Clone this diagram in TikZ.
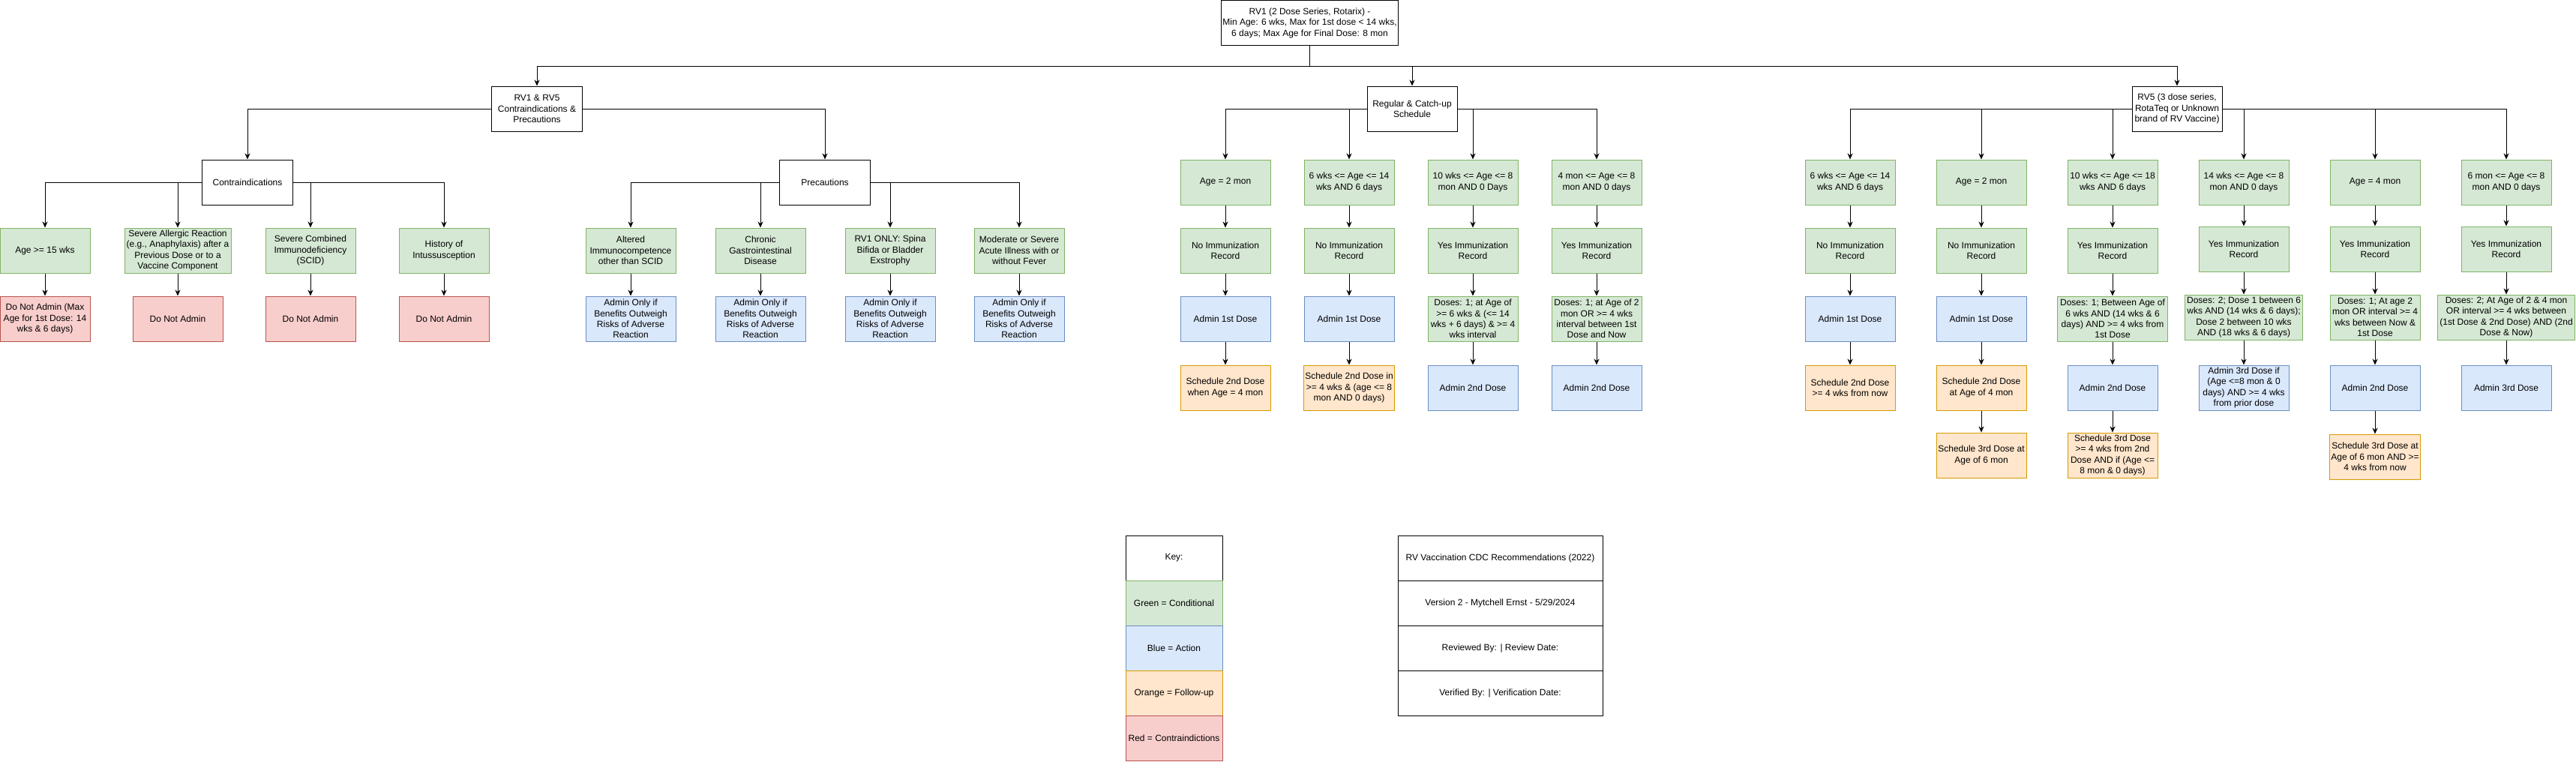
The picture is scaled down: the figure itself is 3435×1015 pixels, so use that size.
\documentclass[tikz,border=0pt]{standalone}
\usepackage{fontspec}
\setmainfont{Liberation Sans}
\usetikzlibrary{arrows.meta}

\definecolor{condfill}{HTML}{D5E8D4}
\definecolor{condline}{HTML}{82B366}
\definecolor{actfill}{HTML}{DAE8FC}
\definecolor{actline}{HTML}{6C8EBF}
\definecolor{folfill}{HTML}{FFE6CC}
\definecolor{folline}{HTML}{D79B00}
\definecolor{confill}{HTML}{F8CECC}
\definecolor{conline}{HTML}{B85450}

\tikzset{
	box/.style={draw, line width=1pt, minimum width=120pt, minimum height=60pt, inner sep=2pt, align=center, font=\fontsize{12}{14.4}\selectfont},
	plain/.style={box, draw=black, fill=white},
	cond/.style={box, draw=condline, fill=condfill},
	act/.style={box, draw=actline, fill=actfill},
	follow/.style={box, draw=folline, fill=folfill},
	contra/.style={box, draw=conline, fill=confill},
	arr/.style={-{Stealth[length=8pt,width=7pt,inset=2.5pt]}, line width=1pt},
}

\begin{document}
\begin{tikzpicture}[x=1pt,y=-1pt]
	\useasboundingbox (0,0) rectangle (3435,1015);
	
	\node[plain, minimum width=235pt] (root) at (1746.5,30.5) {RV1 (2 Dose Series, Rotarix) -\\Min Age: 6 wks, Max for 1st dose < 14 wks,\\6 days; Max Age for Final Dose: 8 mon};
	
	\node[plain, minimum width=121pt] (rvcp) at (716,145) {RV1 \& RV5\\Contraindications \&\\Precautions};
	\node[plain] (reg) at (1883,145) {Regular \& Catch-up\\Schedule};
	\node[plain] (rv5) at (2903,145) {RV5 (3 dose series,\\RotaTeq or Unknown\\brand of RV Vaccine)};
	
	\node[plain, minimum width=121pt] (contra) at (330,243) {Contraindications};
	\node[plain, minimum width=121pt] (prec) at (1100,243) {Precautions};
	
	% contraindications
	\node[cond] (ca1) at (60,334) {Age >= 15 wks};
	\node[cond, minimum width=142pt] (ca2) at (237,334) {Severe Allergic Reaction\\(e.g., Anaphylaxis) after a\\Previous Dose or to a\\Vaccine Component};
	\node[cond] (ca3) at (414,334) {Severe Combined\\Immunodeficiency\\(SCID)};
	\node[cond] (ca4) at (592,334) {History of\\Intussusception};
	\node[contra] (cb1) at (60,425) {Do Not Admin (Max\\Age for 1st Dose: 14\\wks \& 6 days)};
	\node[contra] (cb2) at (237,425) {Do Not Admin};
	\node[contra] (cb3) at (414,425) {Do Not Admin};
	\node[contra] (cb4) at (592,425) {Do Not Admin};
	
	% precautions
	\node[cond] (pa1) at (841,334) {Altered\\Immunocompetence\\other than SCID};
	\node[cond] (pa2) at (1014,334) {Chronic\\Gastrointestinal\\Disease};
	\node[cond] (pa3) at (1187,334) {RV1 ONLY: Spina\\Bifida or Bladder\\Exstrophy};
	\node[cond] (pa4) at (1359,334) {Moderate or Severe\\Acute Illness with or\\without Fever};
	\node[act] (pb1) at (841,425) {Admin Only if\\Benefits Outweigh\\Risks of Adverse\\Reaction};
	\node[act] (pb2) at (1014,425) {Admin Only if\\Benefits Outweigh\\Risks of Adverse\\Reaction};
	\node[act] (pb3) at (1187,425) {Admin Only if\\Benefits Outweigh\\Risks of Adverse\\Reaction};
	\node[act] (pb4) at (1359,425) {Admin Only if\\Benefits Outweigh\\Risks of Adverse\\Reaction};
	
	% regular & catch-up
	\node[cond] (ra1) at (1634,243) {Age = 2 mon};
	\node[cond] (ra2) at (1799,243) {6 wks <= Age <= 14\\wks AND 6 days};
	\node[cond] (ra3) at (1964,243) {10 wks <= Age <= 8\\mon AND 0 Days};
	\node[cond] (ra4) at (2129,243) {4 mon <= Age <= 8\\mon AND 0 days};
	\node[cond] (rb1) at (1634,334) {No Immunization\\Record};
	\node[cond] (rb2) at (1799,334) {No Immunization\\Record};
	\node[cond] (rb3) at (1964,334) {Yes Immunization\\Record};
	\node[cond] (rb4) at (2129,334) {Yes Immunization\\Record};
	\node[act] (rc1) at (1634,425) {Admin 1st Dose};
	\node[act] (rc2) at (1799,425) {Admin 1st Dose};
	\node[cond] (rc3) at (1964,425) {Doses: 1; at Age of\\>= 6 wks \& (<= 14\\wks + 6 days) \& >= 4\\wks interval};
	\node[cond] (rc4) at (2129,425) {Doses: 1; at Age of 2\\mon OR >= 4 wks\\interval between 1st\\Dose and Now};
	\node[follow] (rd1) at (1634,517) {Schedule 2nd Dose\\when Age = 4 mon};
	\node[follow] (rd2) at (1799,517) {Schedule 2nd Dose in\\>= 4 wks \& (age <= 8\\mon AND 0 days)};
	\node[act] (rd3) at (1964,517) {Admin 2nd Dose};
	\node[act] (rd4) at (2129,517) {Admin 2nd Dose};
	
	% rv5
	\node[cond] (va1) at (2467,243) {6 wks <= Age <= 14\\wks AND 6 days};
	\node[cond] (va2) at (2642,243) {Age = 2 mon};
	\node[cond] (va3) at (2817,243) {10 wks <= Age <= 18\\wks AND 6 days};
	\node[cond] (va4) at (2992,243) {14 wks <= Age <= 8\\mon AND 0 days};
	\node[cond] (va5) at (3167,243) {Age = 4 mon};
	\node[cond] (va6) at (3342,243) {6 mon <= Age <= 8\\mon AND 0 days};
	\node[cond] (vb1) at (2467,334) {No Immunization\\Record};
	\node[cond] (vb2) at (2642,334) {No Immunization\\Record};
	\node[cond] (vb3) at (2817,334) {Yes Immunization\\Record};
	\node[cond] (vb4) at (2992,332) {Yes Immunization\\Record};
	\node[cond] (vb5) at (3167,332) {Yes Immunization\\Record};
	\node[cond] (vb6) at (3342,332) {Yes Immunization\\Record};
	\node[act] (vc1) at (2467,425) {Admin 1st Dose};
	\node[act] (vc2) at (2642,425) {Admin 1st Dose};
	\node[cond, minimum width=147pt] (vc3) at (2817,425) {Doses: 1; Between Age of\\6 wks AND (14 wks \& 6\\days) AND >= 4 wks from\\1st Dose};
	\node[cond, minimum width=157pt] (vc4) at (2992,423) {Doses: 2; Dose 1 between 6\\wks AND (14 wks \& 6 days);\\Dose 2 between 10 wks\\AND (18 wks \& 6 days)};
	\node[cond] (vc5) at (3167,423) {Doses: 1; At age 2\\mon OR interval >= 4\\wks between Now \&\\1st Dose};
	\node[cond, minimum width=183pt] (vc6) at (3342,423) {Doses: 2; At Age of 2 \& 4 mon\\OR interval >= 4 wks between\\(1st Dose \& 2nd Dose) AND (2nd\\Dose \& Now)};
	\node[follow] (vd1) at (2467,517) {Schedule 2nd Dose\\>= 4 wks from now};
	\node[follow] (vd2) at (2642,517) {Schedule 2nd Dose\\at Age of 4 mon};
	\node[act] (vd3) at (2817,517) {Admin 2nd Dose};
	\node[act] (vd4) at (2992,517) {Admin 3rd Dose if\\(Age <=8 mon \& 0\\days) AND >= 4 wks\\from prior dose};
	\node[act] (vd5) at (3167,517) {Admin 2nd Dose};
	\node[act] (vd6) at (3342,517) {Admin 3rd Dose};
	\node[follow] (ve2) at (2642,607) {Schedule 3rd Dose at\\Age of 6 mon};
	\node[follow] (ve3) at (2817,607) {Schedule 3rd Dose\\>= 4 wks from 2nd\\Dose AND if (Age <=\\8 mon \& 0 days)};
	\node[follow] (ve5) at (3167,609) {Schedule 3rd Dose at\\Age of 6 mon AND >=\\4 wks from now};
	
	% key and document info
	\node[plain, minimum width=129pt] (key) at (1565.5,744) {Key:};
	\node[cond, minimum width=129pt] (kgreen) at (1565.5,804) {Green = Conditional};
	\node[act, minimum width=129pt] (kblue) at (1565.5,864) {Blue = Action};
	\node[follow, minimum width=129pt] (korange) at (1565.5,924) {Orange = Follow-up};
	\node[contra, minimum width=129pt] (kred) at (1565.5,984) {Red = Contraindictions};
	\node[plain, minimum width=273pt] (info1) at (2000.5,744) {RV Vaccination CDC Recommendations (2022)};
	\node[plain, minimum width=273pt] (info2) at (2000.5,804) {Version 2 - Mytchell Ernst - 5/29/2024};
	\node[plain, minimum width=273pt] (info3) at (2000.5,864) {Reviewed By: | Review Date:};
	\node[plain, minimum width=273pt] (info4) at (2000.5,924) {Verified By: | Verification Date:};
	
	\draw[arr] (root.south) -- ++(0,27) -| (rvcp.north);
	\draw[arr] (root.south) -- ++(0,27) -| (reg.north);
	\draw[arr] (root.south) -- ++(0,27) -| (rv5.north);
	
	\draw[arr] (rvcp.west) -| (contra.north);
	\draw[arr] (rvcp.east) -| (prec.north);
	\foreach \c in {ca1,ca2} \draw[arr] (contra.west) -| (\c.north);
	\foreach \c in {ca3,ca4} \draw[arr] (contra.east) -| (\c.north);
	\foreach \c in {pa1,pa2} \draw[arr] (prec.west) -| (\c.north);
	\foreach \c in {pa3,pa4} \draw[arr] (prec.east) -| (\c.north);
	\foreach \c in {ra1,ra2} \draw[arr] (reg.west) -| (\c.north);
	\foreach \c in {ra3,ra4} \draw[arr] (reg.east) -| (\c.north);
	\foreach \c in {va1,va2,va3} \draw[arr] (rv5.west) -| (\c.north);
	\foreach \c in {va4,va5,va6} \draw[arr] (rv5.east) -| (\c.north);
	
	\foreach \i in {1,...,4} {
		\path[arr] (ca\i) edge (cb\i);
		\path[arr] (pa\i) edge (pb\i);
		\path[arr] (ra\i) edge (rb\i);
		\path[arr] (rb\i) edge (rc\i);
		\path[arr] (rc\i) edge (rd\i);
	}
	\foreach \i in {1,...,6} {
		\path[arr] (va\i) edge (vb\i);
		\path[arr] (vb\i) edge (vc\i);
		\path[arr] (vc\i) edge (vd\i);
	}
	\path[arr] (vd2) edge (ve2);
	\path[arr] (vd3) edge (ve3);
	\path[arr] (vd5) edge (ve5);
	
\end{tikzpicture}
\end{document}
